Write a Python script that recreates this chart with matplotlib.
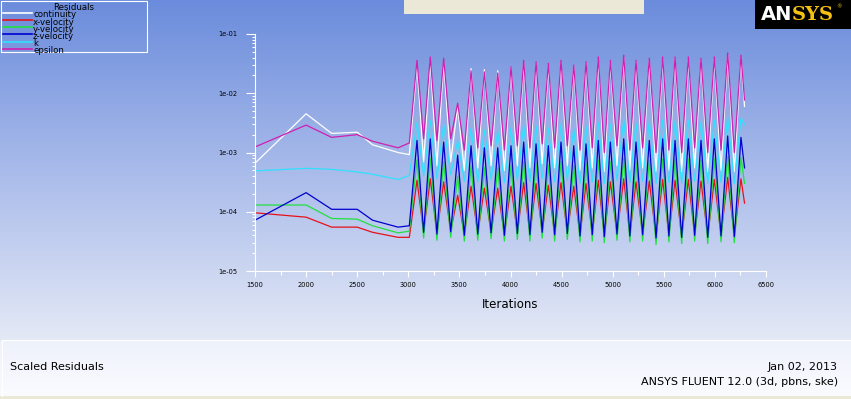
import matplotlib
matplotlib.use('Agg')
import matplotlib.pyplot as plt
import numpy as np
from matplotlib.patches import Rectangle
from matplotlib.ticker import MultipleLocator, LogLocator, FuncFormatter, NullFormatter

# iterations of the smooth start, the peaks and the troughs of the oscillation
start_iters = [1500, 2000, 2250, 2500, 2650, 2900, 3010]
peak_iters = [3085, 3215, 3346, 3483, 3614, 3744, 3875, 4005, 4129, 4250,
              4370, 4494, 4619, 4739, 4859, 4977, 5108, 5228, 5358, 5489,
              5610, 5740, 5864, 5994, 6125, 6255]
trough_iters = [3150, 3280, 3415, 3548, 3680, 3810, 3940, 4067, 4190, 4310,
                4432, 4556, 4680, 4800, 4918, 5042, 5168, 5293, 5424, 5550,
                5675, 5802, 5930, 6060, 6190]
end_iter = 6290

labels = ['continuity', 'x-velocity', 'y-velocity', 'z-velocity', 'k', 'epsilon']
colors = ['#ffffff', '#e8101a', '#20e040', '#0000d0', '#30e0ff', '#d020b0']

continuity_start = [6.6e-4, 4.5e-3, 2.1e-3, 2.2e-3, 1.35e-3, 1.0e-3, 9.2e-4]
continuity_peaks = [0.030, 0.034, 0.033, 0.006, 0.026, 0.025, 0.024, 0.027, 0.033,
                    0.032, 0.030, 0.033, 0.029, 0.032, 0.037, 0.034, 0.040, 0.034,
                    0.036, 0.038, 0.038, 0.038, 0.036, 0.038, 0.044, 0.040]
continuity_troughs = [7e-4, 6e-4, 7e-4, 5e-4, 5.5e-4, 6e-4, 5e-4, 6e-4, 5.5e-4,
                      6.5e-4, 5.5e-4, 6e-4, 5e-4, 5.5e-4, 4.8e-4, 6e-4, 5e-4,
                      5.5e-4, 4.8e-4, 5e-4, 4.8e-4, 5.5e-4, 4.8e-4, 5e-4, 4.8e-4]
continuity_end = 6e-3

xvel_start = [9.6e-5, 8.1e-5, 5.5e-5, 5.5e-5, 4.5e-5, 3.7e-5, 3.7e-5]
xvel_peaks = [3.4e-4, 3.6e-4, 3.2e-4, 1.9e-4, 2.7e-4, 2.5e-4, 2.5e-4, 2.7e-4, 3.1e-4,
              3.0e-4, 2.8e-4, 3.1e-4, 2.7e-4, 3.0e-4, 3.4e-4, 3.2e-4, 3.6e-4, 3.2e-4,
              3.3e-4, 3.5e-4, 3.4e-4, 3.5e-4, 3.3e-4, 3.5e-4, 3.8e-4, 3.6e-4]
xvel_troughs = [4.6e-5, 4.3e-5, 4.7e-5, 4.1e-5, 4.3e-5, 4.5e-5, 4.1e-5, 4.4e-5, 4.2e-5,
                4.6e-5, 4.2e-5, 4.4e-5, 4.0e-5, 4.2e-5, 3.9e-5, 4.3e-5, 4.0e-5, 4.2e-5,
                3.8e-5, 4.0e-5, 3.8e-5, 4.1e-5, 3.8e-5, 4.0e-5, 3.9e-5]
xvel_end = 1.4e-4

yvel_start = [1.3e-4, 1.3e-4, 7.7e-5, 7.5e-5, 5.8e-5, 4.4e-5, 4.7e-5]
yvel_peaks = [7.5e-4, 8e-4, 7e-4, 4e-4, 6e-4, 5.6e-4, 5.5e-4, 6e-4, 7e-4, 6.6e-4,
              6.2e-4, 7e-4, 6e-4, 6.6e-4, 7.5e-4, 7e-4, 8e-4, 7e-4, 7.4e-4, 7.8e-4,
              7.6e-4, 7.8e-4, 7.4e-4, 7.8e-4, 8.6e-4, 8.2e-4]
yvel_troughs = [3.6e-5, 3.3e-5, 3.7e-5, 3.2e-5, 3.3e-5, 3.5e-5, 3.2e-5, 3.4e-5, 3.2e-5,
                3.6e-5, 3.2e-5, 3.4e-5, 3.1e-5, 3.2e-5, 3.0e-5, 3.3e-5, 3.1e-5, 3.2e-5,
                2.8e-5, 3.1e-5, 2.9e-5, 3.2e-5, 2.9e-5, 3.1e-5, 3.0e-5]
yvel_end = 3.0e-4

zvel_start = [7.2e-5, 2.1e-4, 1.1e-4, 1.1e-4, 7.2e-5, 5.5e-5, 5.8e-5]
zvel_peaks = [1.6e-3, 1.7e-3, 1.5e-3, 9e-4, 1.3e-3, 1.2e-3, 1.2e-3, 1.3e-3, 1.5e-3,
              1.4e-3, 1.3e-3, 1.5e-3, 1.3e-3, 1.4e-3, 1.6e-3, 1.5e-3, 1.7e-3, 1.5e-3,
              1.6e-3, 1.7e-3, 1.6e-3, 1.7e-3, 1.6e-3, 1.7e-3, 1.9e-3, 1.8e-3]
zvel_troughs = [4.5e-5, 4.2e-5, 4.6e-5, 4.0e-5, 4.2e-5, 4.4e-5, 4.0e-5, 4.3e-5, 4.1e-5,
                4.5e-5, 4.1e-5, 4.3e-5, 3.9e-5, 4.1e-5, 3.8e-5, 4.2e-5, 3.9e-5, 4.1e-5,
                3.6e-5, 3.9e-5, 3.7e-5, 4.0e-5, 3.7e-5, 3.9e-5, 3.8e-5]
zvel_end = 5.5e-4

k_start = [4.9e-4, 5.4e-4, 5.2e-4, 4.7e-4, 4.3e-4, 3.5e-4, 4.1e-4]
k_peaks = [3.2e-3, 3.5e-3, 3.0e-3, 1.6e-3, 2.6e-3, 2.4e-3, 2.3e-3, 2.6e-3, 2.9e-3,
           2.8e-3, 2.6e-3, 3.0e-3, 2.5e-3, 2.8e-3, 3.2e-3, 3.0e-3, 3.6e-3, 3.1e-3,
           3.3e-3, 3.5e-3, 3.4e-3, 3.5e-3, 3.3e-3, 3.5e-3, 4.0e-3, 3.8e-3]
k_troughs = [4.0e-4, 3.6e-4, 4.2e-4, 3.3e-4, 3.2e-4, 3.5e-4, 3.1e-4, 3.4e-4, 3.2e-4,
             3.6e-4, 3.2e-4, 3.4e-4, 3.0e-4, 3.2e-4, 3.0e-4, 3.4e-4, 3.1e-4, 3.3e-4,
             3.0e-4, 3.1e-4, 3.0e-4, 3.3e-4, 3.0e-4, 3.1e-4, 3.0e-4]
k_end = 3.0e-3

epsilon_start = [1.24e-3, 2.9e-3, 1.8e-3, 2.0e-3, 1.55e-3, 1.2e-3, 1.45e-3]
epsilon_peaks = [0.036, 0.041, 0.039, 0.0068, 0.024, 0.023, 0.022, 0.028, 0.036,
                 0.034, 0.032, 0.036, 0.030, 0.034, 0.041, 0.036, 0.044, 0.036,
                 0.039, 0.041, 0.041, 0.041, 0.039, 0.041, 0.048, 0.044]
epsilon_troughs = [1.7e-3, 1.6e-3, 1.7e-3, 1.1e-3, 1.2e-3, 1.3e-3, 1.1e-3, 1.3e-3,
                   1.2e-3, 1.4e-3, 1.2e-3, 1.3e-3, 1.1e-3, 1.2e-3, 1.0e-3, 1.3e-3,
                   1.1e-3, 1.2e-3, 1.0e-3, 1.1e-3, 1.0e-3, 1.2e-3, 1.0e-3, 1.1e-3, 1.0e-3]
epsilon_end = 7.7e-3

series = [
    (continuity_start, continuity_peaks, continuity_troughs, continuity_end),
    (xvel_start, xvel_peaks, xvel_troughs, xvel_end),
    (yvel_start, yvel_peaks, yvel_troughs, yvel_end),
    (zvel_start, zvel_peaks, zvel_troughs, zvel_end),
    (k_start, k_peaks, k_troughs, k_end),
    (epsilon_start, epsilon_peaks, epsilon_troughs, epsilon_end),
]


def build_series(start, peaks, troughs, end):
    xs = list(start_iters)
    ys = list(start)
    for i, (pi, pv) in enumerate(zip(peak_iters, peaks)):
        xs.append(pi)
        ys.append(pv)
        if i < len(troughs):
            xs.append(trough_iters[i])
            ys.append(troughs[i])
    xs.append(end_iter)
    ys.append(end)
    return xs, ys


W, H = 851, 399
fig = plt.figure(figsize=(W / 100, H / 100), dpi=100)

# background gradient and decorations, in pixel coordinates
bg = fig.add_axes([0, 0, 1, 1])
rows = np.arange(H)
stops_y = [0, 170, 340, 341, 396, 399]
stops_c = np.array([[0x6b, 0x8c, 0xdc], [0xa9, 0xbb, 0xea], [0xe4, 0xe9, 0xf6],
                    [0xee, 0xf2, 0xfb], [0xfa, 0xfb, 0xff], [0xfa, 0xfb, 0xff]]) / 255
grad = np.stack([np.interp(rows, stops_y, stops_c[:, c]) for c in range(3)], axis=1)
bg.imshow(grad[:, None, :], aspect='auto', extent=[0, W, H, 0])
bg.set_xlim(0, W)
bg.set_ylim(H, 0)
bg.axis('off')

bg.add_patch(Rectangle((404, 0), 240, 14, facecolor='#ebe8d8', edgecolor='none'))
bg.plot([2, W], [340, 340], color='white', lw=0.8)
bg.plot([2, 2], [340, 396], color='white', lw=0.8)
bg.add_patch(Rectangle((0, 396), W, 3, facecolor='#ebe8d8', edgecolor='none'))

# ANSYS logo
bg.add_patch(Rectangle((755, 0), 96, 29, facecolor='black', edgecolor='none'))
bg.text(761, 15, 'AN', color='white', fontsize=14, fontweight='bold',
        family='DejaVu Sans', va='center', ha='left')
bg.text(792, 15, 'SYS', color='#f5c010', fontsize=14, fontweight='bold',
        family='DejaVu Serif', va='center', ha='left')
bg.text(836, 7, '®', color='#f5c010', fontsize=4, va='center', ha='left')

# footer texts
bg.text(10, 367, 'Scaled Residuals', fontsize=8, va='center', ha='left', color='black')
bg.text(838, 367, 'Jan 02, 2013', fontsize=8, va='center', ha='right', color='black')
bg.text(838, 382, 'ANSYS FLUENT 12.0 (3d, pbns, ske)', fontsize=8, va='center',
        ha='right', color='black')

# legend box
bg.add_patch(Rectangle((1, 1), 146, 51, facecolor='none', edgecolor='white', lw=0.8))
bg.text(74, 7, 'Residuals', fontsize=6.2, ha='center', va='center', color='black')
for i, (lab, col) in enumerate(zip(labels, colors)):
    ly = 12.7 + i * 7.2
    bg.plot([3, 32], [ly, ly], color=col, lw=1.2)
    bg.text(33, ly + 2.2, lab, fontsize=6.2, ha='left', va='center', color='black')

# residual plot
ax = fig.add_axes([255 / W, (H - 271) / H, (766 - 255) / W, (271 - 34) / H])
ax.patch.set_alpha(0)
for (start, peaks, troughs, end), col in zip(series, colors):
    xs, ys = build_series(start, peaks, troughs, end)
    ax.plot(xs, ys, color=col, lw=0.9)

ax.set_yscale('log')
ax.set_xlim(1500, 6500)
ax.set_ylim(1e-5, 1e-1)
ax.xaxis.set_major_locator(MultipleLocator(500))
ax.xaxis.set_minor_locator(MultipleLocator(250))
ax.yaxis.set_major_locator(LogLocator(base=10, numticks=10))
ax.yaxis.set_minor_locator(LogLocator(base=10, subs=np.arange(2, 10), numticks=10))
ax.yaxis.set_minor_formatter(NullFormatter())
ax.yaxis.set_major_formatter(FuncFormatter(lambda v, p: '1e-%02d' % round(-np.log10(v))))

for side in ['top', 'right']:
    ax.spines[side].set_visible(False)
for side in ['left', 'bottom']:
    ax.spines[side].set_color('white')
    ax.spines[side].set_linewidth(0.8)

ax.tick_params(axis='y', which='major', length=6.5, width=0.8, color='white',
               labelsize=4.8, pad=6, labelcolor='black')
ax.tick_params(axis='y', which='minor', length=2.4, width=0.8, color='white')
ax.tick_params(axis='x', which='major', length=4, width=0.8, color='white',
               labelsize=4.8, pad=4, labelcolor='black')
ax.tick_params(axis='x', which='minor', length=3, width=0.8, color='white')
ax.set_xlabel('Iterations', fontsize=8.5, labelpad=7, color='black')

fig.savefig('out.png', dpi=100)
